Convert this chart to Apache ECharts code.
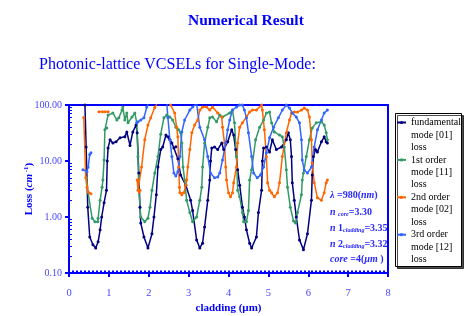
<!DOCTYPE html>
<html>
<head>
<meta charset="utf-8">
<script src="https://cdn.jsdelivr.net/npm/echarts@6/dist/echarts.min.js"></script>
<style>
html, body { margin: 0; padding: 0; background: #fff; }
#main { width: 465px; height: 316px; }
</style>
</head>
<body>
<div id="main"></div>
<script>
// loss curves: [cladding (um), loss (1/cm)], '-' = gap in the line
var fundamental = [
  [0.40, 100], [0.43, 17.8], [0.47, 1.5], [0.52, 0.44], [0.60, 0.32], [0.67, 0.28], [0.73, 0.36],
  [0.78, 0.59], [0.82, 1.0], [0.88, 1.8], [0.94, 3.0], [0.96, 10], [0.98, 17], [1.03, 24],
  [1.10, 21], [1.18, 22], [1.28, 26], [1.40, 27], [1.45, 33], [1.53, 19], [1.60, 33], [1.68, 44],
  [1.71, 32], [1.75, 6.1], [1.78, 1.5], [1.80, 0.78], [1.88, 0.44], [1.98, 0.28], [2.08, 0.5],
  [2.13, 1.0], [2.19, 2.5], [2.23, 7.8], [2.30, 16], [2.35, 17.8], [2.43, 29], [2.48, 27],
  [2.53, 24], [2.58, 21], [2.63, 17], [2.68, 18], [2.73, 11], [2.80, 5.6], [2.93, 3.7], [3.05, 2.0],
  [3.10, 1.3], [3.20, 0.39], [3.28, 0.28], [3.35, 0.34], [3.40, 0.66], [3.48, 2.0], [3.53, 4.6],
  [3.55, 10], [3.58, 17], [3.65, 17.8], [3.73, 16], [3.83, 21], [3.88, 16], [3.98, 22], [4.08, 36],
  [4.13, 29], [4.18, 16], [4.23, 7], [4.28, 3.7], [4.35, 1.5], [4.40, 1.0], [4.45, 0.59], [4.53, 0.34],
  [4.58, 0.28], [4.70, 0.44], [4.75, 1.2], [4.83, 3.0], [4.85, 10], [4.88, 17], [4.95, 17.8],
  [5.03, 14.5], [5.10, 24], [5.20, 16], [5.33, 17.8], [5.45, 24], [5.50, 32], [5.55, 24], [5.58, 12],
  [5.60, 4.1], [5.65, 2.0], [5.70, 1.0], [5.78, 0.39], [5.88, 0.26], [5.98, 0.5], [6.08, 2.0],
  [6.10, 5.6], [6.13, 12], [6.18, 16], [6.23, 14.5], [6.33, 22], [6.40, 27], [6.45, 22], [6.48, 21]
];
var firstOrder = [
  [0.44, 5], [0.48, 2.7], [0.58, 0.95], [0.65, 0.82], [0.72, 0.82], [0.73, 0.95], [0.78, 2.0],
  [0.83, 3.4], [0.85, 4.6], [0.88, 10.4], [0.90, 36], [0.95, 39], [0.98, 66], [1.10, 72], [1.20, 54],
  [1.25, 59], [1.33, 81], [1.35, 92], [1.40, 54], [1.45, 72], [1.48, 48], [1.58, 61], [1.65, 72],
  [1.70, 48], [1.73, 12], [1.75, 3.0], [1.80, 1.0], [1.90, 0.82], [1.98, 0.95], [2.03, 1.5],
  [2.08, 3.0], [2.15, 6.1], [2.23, 12], [2.30, 30], [2.38, 59], [2.45, 66], [2.53, 61], [2.60, 54],
  [2.68, 40], [2.75, 36], [2.80, 32], [2.83, 21], [2.86, 7.8], [2.90, 4.6], [2.95, 2.0], [3.03, 1.2],
  [3.10, 0.82], [3.20, 1.0], [3.28, 2.0], [3.33, 3.4], [3.35, 7.8], [3.40, 21], [3.48, 40], [3.53, 59],
  [3.60, 61], [3.70, 50], [3.78, 66], [3.85, 61], [4.03, 72], [4.10, 81], [4.15, 48], [4.20, 12],
  [4.23, 3.0], [4.28, 2.3], [4.35, 1.2], [4.38, 0.82], [4.45, 0.82], [4.50, 1.3], [4.53, 4.6],
  [4.58, 7.0], [4.68, 24], [4.78, 40], [4.88, 54], [4.95, 72], [5.03, 75], [5.08, 48], [5.15, 33],
  [5.28, 29], [5.35, 27], [5.40, 17.8], [5.45, 7], [5.48, 3.4], [5.55, 1.5], [5.63, 0.85], [5.68, 0.78],
  [5.73, 1.2], [5.83, 2.5], [5.85, 4.6], [5.88, 6.1], [5.95, 12], [6.03, 24], [6.10, 39], [6.20, 48],
  [6.33, 50], [6.40, 44], [6.45, 32], [6.48, 24]
];
var secondOrder = [
  [0.37, 60], [0.42, 5], [0.45, 3.4], [0.48, 2.8], [0.55, 2.6], [0.56, '-'],
  [0.75, 76], [0.84, 76], [0.86, '-'], [0.90, 76], [0.98, 76], [1.00, '-'],
  [1.71, 4.6], [1.73, 3.0], [1.76, 2.8], [1.78, 3.0], [1.82, 7.8], [1.90, 24], [1.98, 44], [2.05, 59],
  [2.15, 90], [2.22, 110], [2.50, 120], [2.55, 100], [2.65, 72], [2.70, 40], [2.73, 27], [2.75, 7.8],
  [2.77, 3.4], [2.78, 2.7], [2.83, 2.5], [2.88, 2.7], [2.93, 3.7], [2.95, 4.6], [2.98, 7.8], [3.03, 16],
  [3.08, 32], [3.15, 44], [3.23, 54], [3.28, 81], [3.35, 92], [3.45, 92], [3.53, 81], [3.60, 92],
  [3.73, 72], [3.83, 61], [3.85, 40], [3.90, 21], [3.93, 7.8], [3.95, 4.6], [4.00, 2.7], [4.05, 2.3],
  [4.10, 2.7], [4.13, 4.1], [4.20, 7.8], [4.23, 21], [4.28, 40], [4.35, 48], [4.45, 61], [4.53, 75],
  [4.60, 81], [4.70, 81], [4.83, 100], [4.85, 81], [4.90, 36], [4.95, 12], [4.98, 4.1], [5.03, 3.0],
  [5.08, 2.7], [5.15, 2.3], [5.23, 2.7], [5.28, 4.1], [5.35, 12], [5.45, 32], [5.53, 54], [5.58, 72],
  [5.65, 75], [5.73, 75], [5.83, 81], [5.90, 88], [5.98, 81], [6.03, 61], [6.08, 24], [6.10, 9.2],
  [6.15, 4.1], [6.23, 2.2], [6.33, 2.0], [6.40, 2.7], [6.45, 4.1], [6.48, 4.6]
];
var thirdOrder = [
  [0.35, 7.0], [0.45, 6.4], [0.48, 7.8], [0.52, 13], [0.55, 14], [0.60, '-'],
  [1.70, 48], [1.73, 50], [1.80, 54], [1.88, 59], [1.95, 92], [2.00, 110], [2.45, 110], [2.48, 60],
  [2.53, 24], [2.58, 12], [2.63, 6.1], [2.68, 5.4], [2.73, 6.4], [2.78, 12], [2.83, 33], [2.90, 54],
  [3.03, 81], [3.10, 92], [3.20, 105], [3.28, 40], [3.40, 24], [3.48, 12], [3.55, 6.1], [3.65, 5.0],
  [3.73, 5.2], [3.78, 6.1], [3.85, 10.4], [3.93, 21], [3.98, 36], [4.03, 54], [4.10, 81], [4.20, 92],
  [4.28, 100], [4.35, 100], [4.40, 81], [4.45, 59], [4.50, 32], [4.58, 12], [4.63, 6.1], [4.72, 5.0],
  [4.80, 5.6], [4.88, 7.8], [4.95, 14], [5.03, 26], [5.13, 40], [5.25, 59], [5.35, 81], [5.45, 100],
  [5.53, 88], [5.60, 72], [5.70, 61], [5.78, 48], [5.83, 24], [5.85, 10.4], [5.90, 6.9], [5.98, 6.1],
  [6.08, 7.8], [6.15, 17.8], [6.23, 36], [6.33, 54], [6.40, 72], [6.48, 81]
];
var seriesNames = [
  'fundamental\nmode [01]\nloss',
  '1st order\nmode [11]\nloss',
  '2nd order\nmode [02]\nloss',
  '3rd order\nmode [12]\nloss'
];
var paramLines = [
  '{i|λ} =980({i|nm})',
  '{i|n} {s|core}=3.30',
  '{i|n} 1{s|cladding}=3.35',
  '{i|n} 2{s|cladding}=3.32',
  '{i|core} =4({i|µm} )'
];

var SERIF = '"Liberation Serif", "Times New Roman", serif';
var BLUE = '#0000ff';
var LABEL_BLUE = '#4646ff';
var colors = ['#000080', '#339966', '#ff6600', '#3366ff'];
var allData = [fundamental, firstOrder, secondOrder, thirdOrder];

var minorY = [];
[0.1, 1, 10].forEach(function (d) {
  for (var k = 2; k <= 9; k++) minorY.push(+(d * k).toFixed(2));
});
var minorX = [];
for (var i = 1; i < 80; i++) minorX.push(+(i / 10).toFixed(1));

var chart = echarts.init(document.getElementById('main'));

var series = allData.map(function (d, idx) {
  return {
    name: seriesNames[idx],
    type: 'line',
    data: d,
    symbol: 'circle',
    symbolSize: 3,
    lineStyle: { width: 1.5, color: colors[idx] },
    itemStyle: { color: colors[idx] },
    emphasis: { disabled: true },
    animation: false
  };
});

var graphics = [{
  type: 'rect',
  shape: { x: 395.5, y: 113.5, width: 66, height: 153 },
  style: { fill: '#fff', stroke: '#000', lineWidth: 1, shadowColor: 'rgba(0,0,0,0.7)', shadowOffsetX: 2, shadowOffsetY: 2 },
  z: 0
}];
var paramY = [195, 212, 228, 244, 259];
paramLines.forEach(function (t, k) {
  graphics.push({
    type: 'text',
    x: 330, y: paramY[k],
    z: 10,
    style: {
      text: t,
      fill: '#2828ff',
      font: 'bold 10px ' + SERIF,
      verticalAlign: 'middle',
      rich: {
        i: { fontStyle: 'italic', fontWeight: 'bold', fontSize: 10, fontFamily: SERIF, fill: '#2828ff' },
        s: { fontStyle: 'italic', fontWeight: 'bold', fontSize: 6, fontFamily: SERIF, fill: '#2828ff', padding: [5, 0, 0, 0] }
      }
    }
  });
});

var option = {
  animation: false,
  color: colors,
  title: [{
    text: 'Numerical Result',
    left: 188, top: 13, padding: 0,
    textStyle: { fontFamily: SERIF, fontWeight: 'bold', fontSize: 15.5, color: BLUE }
  }, {
    text: 'Photonic-lattice VCSELs for Single-Mode:',
    left: 39, top: 57, padding: 0,
    textStyle: { fontFamily: SERIF, fontWeight: 'normal', fontSize: 16, color: BLUE }
  }],
  grid: {
    left: 69, top: 105, right: 77, bottom: 43,
    outerBoundsMode: 'none',
    show: true, borderColor: BLUE, borderWidth: 2, backgroundColor: 'transparent'
  },
  legend: {
    orient: 'vertical',
    left: 396, top: 91.5, padding: 0,
    itemWidth: 9, itemHeight: 4, itemGap: -24.6,
    selectedMode: false,
    data: seriesNames,
    // two blank lines on top put the icon beside the first text line
    formatter: function (name) { return ' \n \n' + name; },
    textStyle: { fontFamily: SERIF, fontSize: 10, color: '#000', lineHeight: 12.4 }
  },
  xAxis: [{
    type: 'value', min: 0, max: 8, interval: 1,
    name: 'cladding (µm)', nameLocation: 'middle', nameGap: 30,
    nameMoveOverlap: false,
    nameTextStyle: { fontFamily: SERIF, fontWeight: 'bold', fontSize: 11, color: BLUE },
    axisLine: { lineStyle: { color: BLUE, width: 2 } },
    axisTick: { length: 4, lineStyle: { color: BLUE, width: 2 } },
    axisLabel: { margin: 15, fontFamily: SERIF, fontSize: 10.5, color: LABEL_BLUE },
    splitLine: { show: false }
  }, {
    type: 'value', min: 0, max: 8, position: 'bottom',
    axisLine: { show: false },
    axisTick: { inside: true, length: 2.5, customValues: minorX, lineStyle: { color: BLUE, width: 2 } },
    axisLabel: { show: false },
    splitLine: { show: false }
  }],
  yAxis: [{
    type: 'log', logBase: 10, min: 0.1, max: 100,
    name: 'Loss ({i|cm}{s| -1})', nameLocation: 'middle', nameGap: 33,
    nameMoveOverlap: false,
    nameTextStyle: {
      fontFamily: SERIF, fontWeight: 'bold', fontSize: 11, color: BLUE,
      rich: {
        i: { fontFamily: SERIF, fontWeight: 'bold', fontStyle: 'italic', fontSize: 11, color: BLUE },
        s: { fontFamily: SERIF, fontWeight: 'bold', fontSize: 7, color: BLUE, padding: [0, 0, 6, 0] }
      }
    },
    axisLine: { lineStyle: { color: BLUE, width: 2 } },
    axisTick: { length: 4, lineStyle: { color: BLUE, width: 2 } },
    axisLabel: {
      margin: 7, fontFamily: SERIF, fontSize: 10, color: LABEL_BLUE,
      formatter: function (v) { return (+v).toFixed(2); }
    },
    splitLine: { show: false }
  }, {
    type: 'log', logBase: 10, min: 0.1, max: 100, position: 'left',
    axisLine: { show: false },
    axisTick: { inside: true, length: 3, customValues: minorY, lineStyle: { color: BLUE, width: 1 } },
    axisLabel: { show: false },
    splitLine: { show: false }
  }],
  graphic: graphics,
  series: series
};

chart.setOption(option);
</script>
</body>
</html>
